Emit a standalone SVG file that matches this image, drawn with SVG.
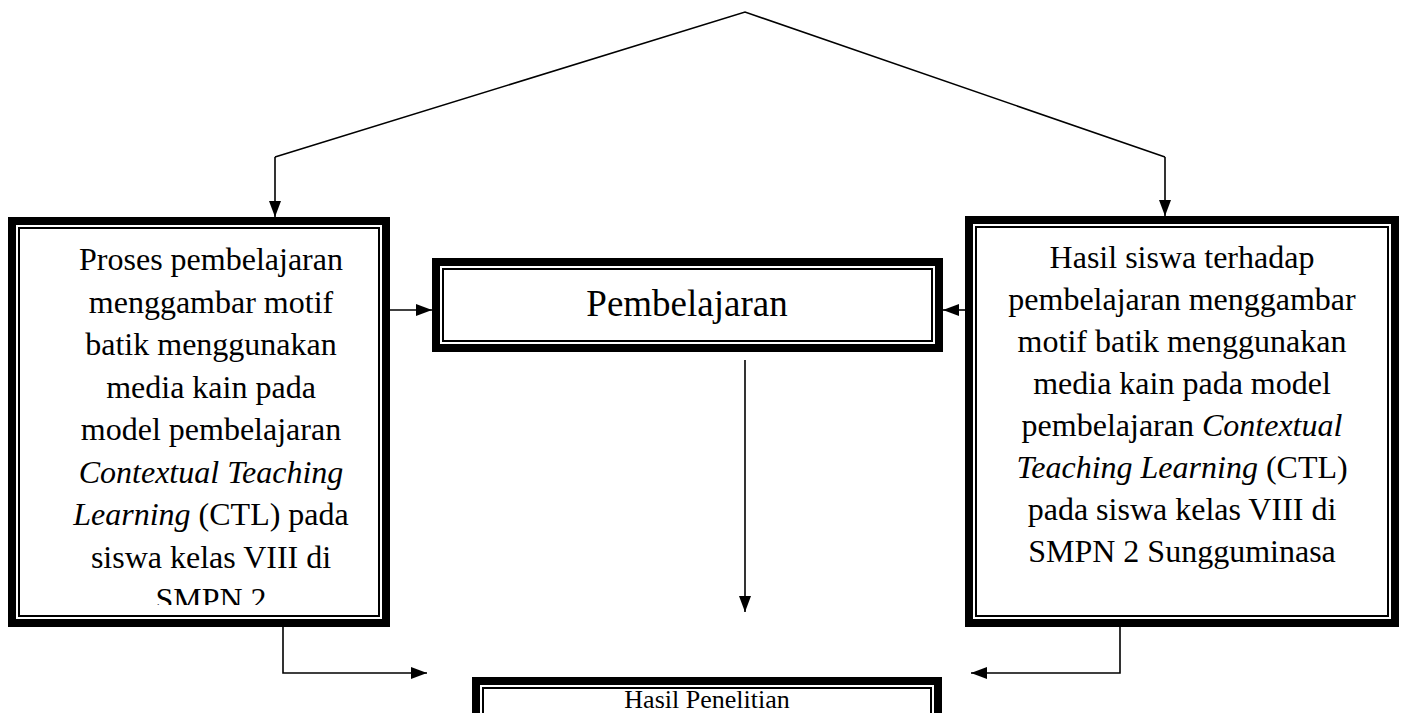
<svg xmlns="http://www.w3.org/2000/svg" width="1405" height="713" viewBox="0 0 1405 713">
<style>
.outer{fill:#fff;stroke:#000;stroke-width:8}
.inner{fill:none;stroke:#000;stroke-width:2}
.t{font-family:"Liberation Serif","Times New Roman",serif;fill:#000;text-anchor:middle}
.side{font-size:32px}
.i{font-style:italic}
.conn{fill:none;stroke:#000;stroke-width:1.6}
</style>
<defs>
<marker id="ah" markerWidth="16" markerHeight="12" refX="16" refY="6" orient="auto" markerUnits="userSpaceOnUse">
<path d="M0,0 L16,6 L0,12 Z" fill="#000"/>
</marker>
<clipPath id="clipL"><rect x="20" y="230" width="358" height="375"/></clipPath>
</defs>
<rect width="1405" height="713" fill="#fff"/>

<g id="connectors">
<polyline class="conn" points="275,157 745,12 1165,157"/>
<line class="conn" x1="275" y1="157" x2="275" y2="217" marker-end="url(#ah)"/>
<line class="conn" x1="1165" y1="157" x2="1165" y2="216" marker-end="url(#ah)"/>
<line class="conn" x1="378" y1="310" x2="432" y2="310" marker-end="url(#ah)"/>
<line class="conn" x1="966" y1="310" x2="943" y2="310" marker-end="url(#ah)"/>
<line class="conn" x1="745" y1="360" x2="745" y2="612" marker-end="url(#ah)"/>
<polyline class="conn" points="283,627 283,673 427,673" marker-end="url(#ah)"/>
<polyline class="conn" points="1120,627 1120,673 971,673" marker-end="url(#ah)"/>
</g>

<g id="node-proses">
<rect class="outer" x="12" y="221" width="374" height="402"/>
<rect class="inner" x="19" y="228" width="360" height="388"/>
<g clip-path="url(#clipL)" class="t side">
<text x="211" y="270">Proses pembelajaran</text>
<text x="211" y="312.5">menggambar motif</text>
<text x="211" y="355">batik menggunakan</text>
<text x="211" y="397.5">media kain pada</text>
<text x="211" y="440">model pembelajaran</text>
<text x="211" y="482.5" class="i">Contextual Teaching</text>
<text x="211" y="525"><tspan class="i">Learning</tspan> (CTL) pada</text>
<text x="211" y="567.5">siswa kelas VIII di</text>
<text x="211" y="610">SMPN 2</text>
</g>
</g>

<g id="node-pembelajaran">
<rect class="outer" x="436" y="262" width="503" height="86"/>
<rect class="inner" x="443" y="269" width="489" height="72"/>
<text class="t" x="687" y="316" font-size="37">Pembelajaran</text>
</g>

<g id="node-hasil-siswa">
<rect class="outer" x="969" y="220" width="426" height="403"/>
<rect class="inner" x="976" y="227" width="412" height="389"/>
<g class="t side">
<text x="1182" y="268">Hasil siswa terhadap</text>
<text x="1182" y="310">pembelajaran menggambar</text>
<text x="1182" y="352">motif batik menggunakan</text>
<text x="1182" y="394">media kain pada model</text>
<text x="1182" y="436">pembelajaran <tspan class="i">Contextual</tspan></text>
<text x="1182" y="478"><tspan class="i">Teaching Learning</tspan> (CTL)</text>
<text x="1182" y="520">pada siswa kelas VIII di</text>
<text x="1182" y="562">SMPN 2 Sungguminasa</text>
</g>
</g>

<g id="node-hasil-penelitian">
<rect class="outer" x="476" y="681" width="462" height="45"/>
<rect class="inner" x="483" y="688" width="448" height="35"/>
<text class="t" x="707" y="708" font-size="26">Hasil Penelitian</text>
</g>
</svg>
